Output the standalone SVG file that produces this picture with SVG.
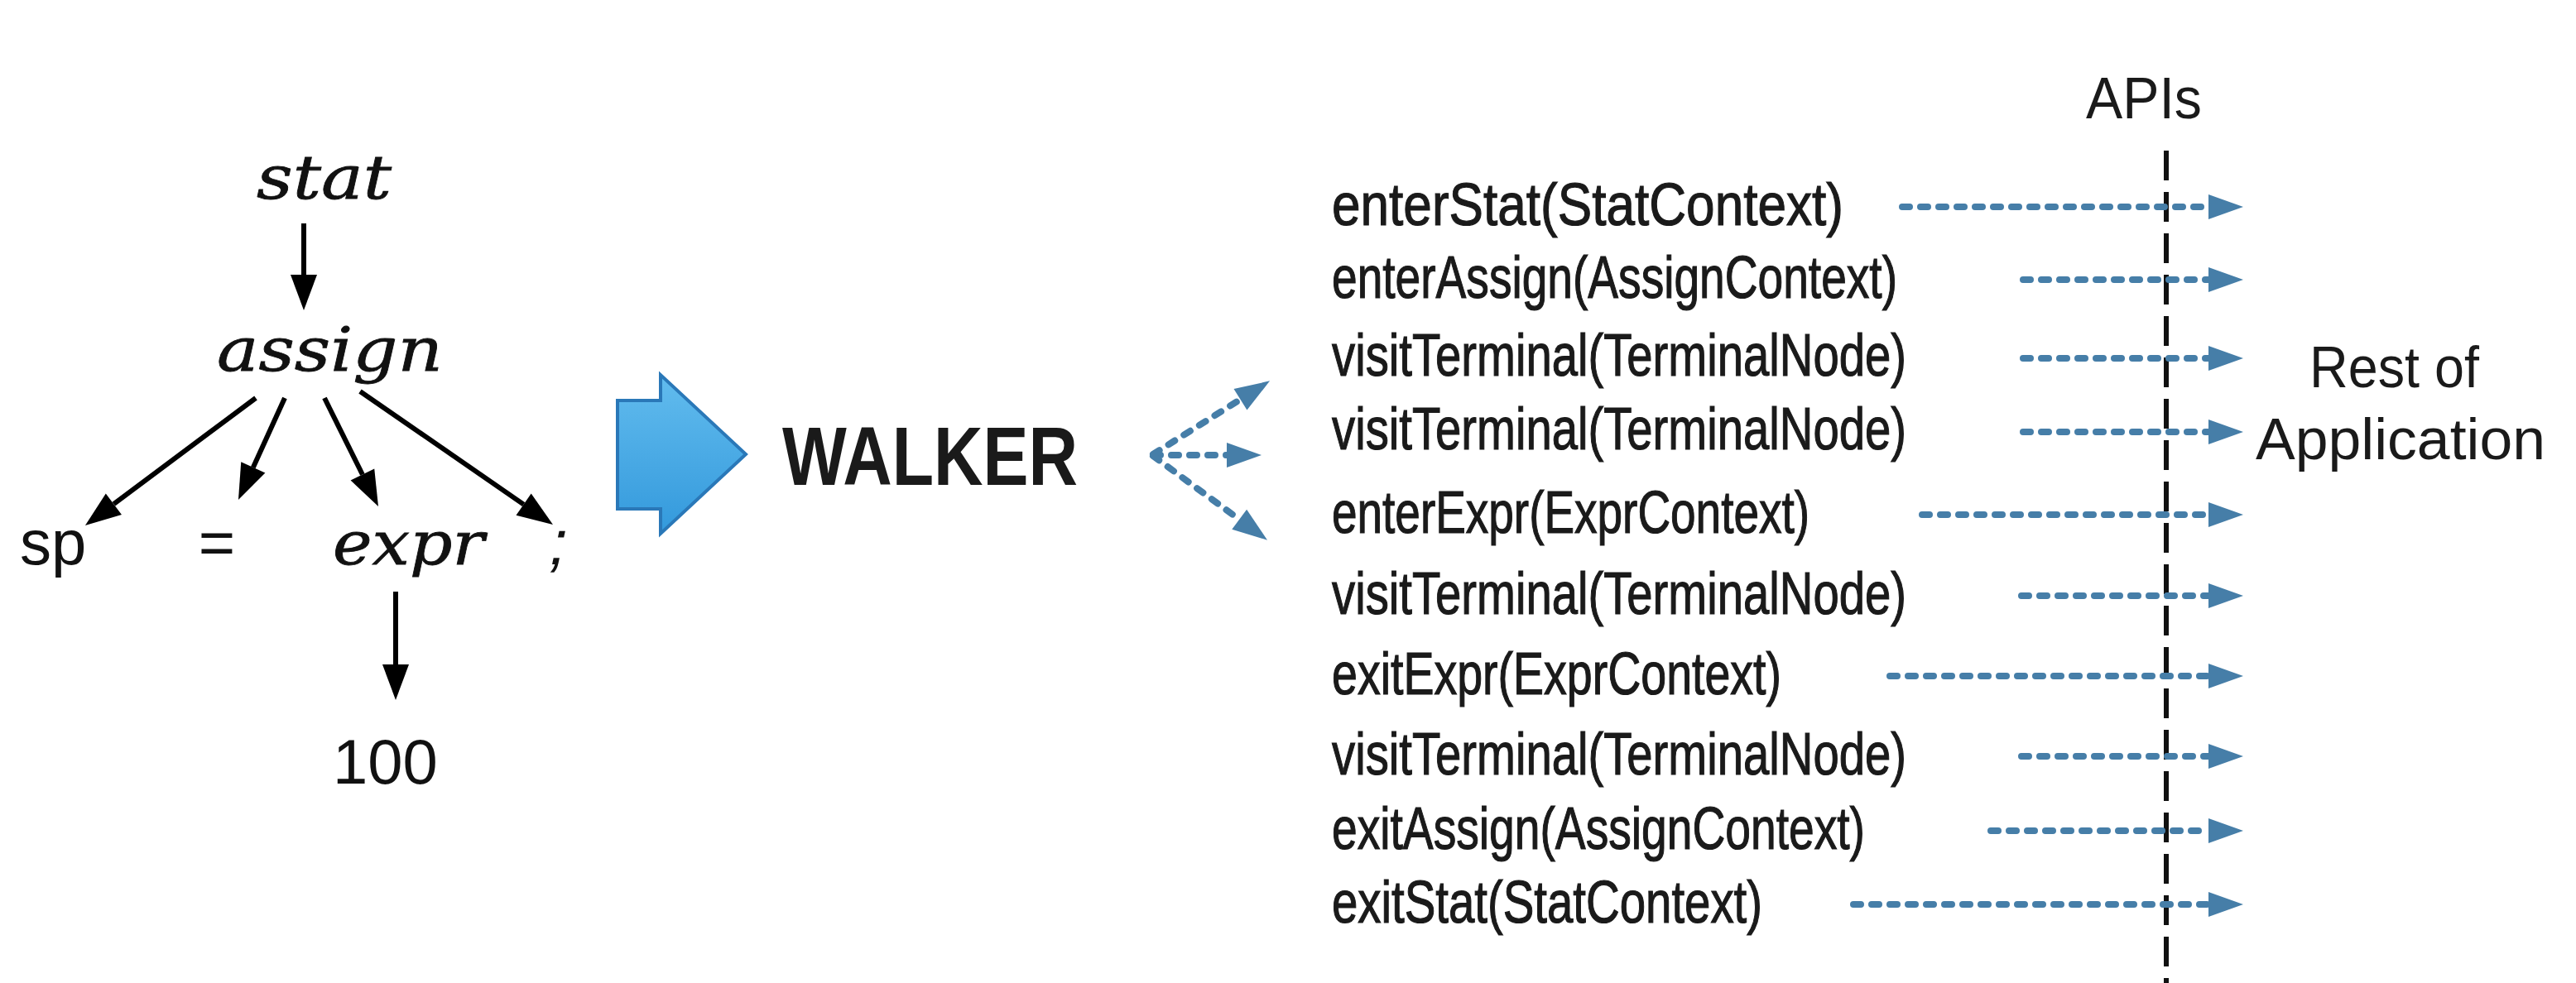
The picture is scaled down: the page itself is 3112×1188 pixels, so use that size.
<svg xmlns="http://www.w3.org/2000/svg" width="3112" height="1188" viewBox="0 0 3112 1188">
<style>
.it{font-family:"DejaVu Serif","Liberation Serif",serif;font-style:italic;font-size:72px;fill:#111;stroke:#111;stroke-width:0.8}
.sn{font-family:"Liberation Sans",Arial,sans-serif;font-size:76px;fill:#111}
.lbl{font-family:"Liberation Sans",Arial,sans-serif;font-size:73px;fill:#1a1a1a;stroke:#1a1a1a;stroke-width:1.2}
.big{font-family:"Liberation Sans",Arial,sans-serif;font-size:71px;fill:#1a1a1a}
.walker{font-family:"Liberation Sans",Arial,sans-serif;font-weight:bold;font-size:100px;fill:#1a1a1a}
.tree{stroke:#000;stroke-width:6;fill:none;marker-end:url(#blk)}
.blue{stroke:#467ea8;stroke-width:8;fill:none;stroke-dasharray:9 13;stroke-linecap:round;marker-end:url(#bl)}
.api{stroke:#111;stroke-width:6;stroke-dasharray:36 14;fill:none}
</style>
<defs>
<marker id="blk" markerUnits="userSpaceOnUse" markerWidth="44" markerHeight="34" refX="0" refY="16" orient="auto" overflow="visible">
<path d="M0,0 L43,16 L0,32 z" fill="#000"/>
</marker>
<marker id="bl" markerUnits="userSpaceOnUse" markerWidth="44" markerHeight="32" refX="0" refY="15" orient="auto" overflow="visible">
<path d="M0,0 L42,15 L0,30 z" fill="#467ea8"/>
</marker>
<linearGradient id="bg" x1="0" y1="0" x2="0" y2="1">
<stop offset="0" stop-color="#62bcee"/>
<stop offset="1" stop-color="#3399dc"/>
</linearGradient>
</defs>
<rect width="3112" height="1188" fill="#fff"/>

<g id="node-stat"><text class="it" x="310" y="240" textLength="163" lengthAdjust="spacingAndGlyphs">stat</text></g>
<g id="node-assign"><text class="it" x="262" y="448" textLength="273" lengthAdjust="spacingAndGlyphs">assign</text></g>
<g id="node-sp"><text class="sn" x="24" y="682">sp</text></g>
<g id="node-eq"><text class="sn" x="262" y="682" text-anchor="middle">=</text></g>
<g id="node-expr"><text class="it" x="402" y="682" textLength="183" lengthAdjust="spacingAndGlyphs">expr</text></g>
<g id="node-semi"><text class="sn" x="660" y="682" transform="skewX(-12) translate(145 0)">;</text></g>
<g id="node-100"><text class="sn" x="402" y="947">100</text></g>

<g id="node-walker-arrow">
<path d="M746,484 L798,484 L798,453 L901,549 L798,645 L798,615 L746,615 Z" fill="url(#bg)" stroke="#2a78b8" stroke-width="4" stroke-linejoin="miter"/>
</g>
<g id="node-walker"><text class="walker" x="945" y="586" textLength="357" lengthAdjust="spacingAndGlyphs">WALKER</text></g>

<g id="node-apis"><text class="big" x="2520" y="143" textLength="140" lengthAdjust="spacingAndGlyphs">APIs</text></g>
<g id="node-rest"><text class="big" x="2790" y="468" textLength="205" lengthAdjust="spacingAndGlyphs">Rest of</text><text class="big" x="2725" y="555" textLength="350" lengthAdjust="spacingAndGlyphs">Application</text></g>

<g id="node-events">
<text class="lbl" x="1609" y="272" textLength="618" lengthAdjust="spacingAndGlyphs">enterStat(StatContext)</text>
<text class="lbl" x="1609" y="360" textLength="683" lengthAdjust="spacingAndGlyphs">enterAssign(AssignContext)</text>
<text class="lbl" x="1609" y="454" textLength="694" lengthAdjust="spacingAndGlyphs">visitTerminal(TerminalNode)</text>
<text class="lbl" x="1609" y="543" textLength="694" lengthAdjust="spacingAndGlyphs">visitTerminal(TerminalNode)</text>
<text class="lbl" x="1609" y="644" textLength="577" lengthAdjust="spacingAndGlyphs">enterExpr(ExprContext)</text>
<text class="lbl" x="1609" y="742" textLength="694" lengthAdjust="spacingAndGlyphs">visitTerminal(TerminalNode)</text>
<text class="lbl" x="1609" y="839" textLength="543" lengthAdjust="spacingAndGlyphs">exitExpr(ExprContext)</text>
<text class="lbl" x="1609" y="936" textLength="694" lengthAdjust="spacingAndGlyphs">visitTerminal(TerminalNode)</text>
<text class="lbl" x="1609" y="1026" textLength="644" lengthAdjust="spacingAndGlyphs">exitAssign(AssignContext)</text>
<text class="lbl" x="1609" y="1115" textLength="520" lengthAdjust="spacingAndGlyphs">exitStat(StatContext)</text>
</g>

<g id="connectors">
<line class="tree" x1="367" y1="270" x2="367" y2="332"/>
<line class="tree" x1="309" y1="481" x2="137.4" y2="609.2"/>
<line class="tree" x1="344" y1="481" x2="305.8" y2="564.9"/>
<line class="tree" x1="392" y1="481" x2="437.9" y2="573.5"/>
<line class="tree" x1="435" y1="473" x2="632.6" y2="609.6"/>
<line class="tree" x1="478" y1="715" x2="478" y2="803"/>

<line class="blue" x1="1393" y1="549" x2="1498.5" y2="482.7"/>
<line class="blue" x1="1393" y1="550" x2="1482" y2="550"/>
<line class="blue" x1="1393" y1="551" x2="1497.2" y2="627.8"/>

<line class="api" x1="2617" y1="182" x2="2617" y2="1188"/>

<line class="blue" x1="2298" y1="250" x2="2668" y2="250"/>
<line class="blue" x1="2444" y1="338" x2="2668" y2="338"/>
<line class="blue" x1="2444" y1="433" x2="2668" y2="433"/>
<line class="blue" x1="2444" y1="522" x2="2668" y2="522"/>
<line class="blue" x1="2322" y1="622" x2="2668" y2="622"/>
<line class="blue" x1="2442" y1="720" x2="2668" y2="720"/>
<line class="blue" x1="2283" y1="817" x2="2668" y2="817"/>
<line class="blue" x1="2442" y1="914" x2="2668" y2="914"/>
<line class="blue" x1="2405" y1="1004" x2="2668" y2="1004"/>
<line class="blue" x1="2239" y1="1093" x2="2668" y2="1093"/>
</g>
</svg>
